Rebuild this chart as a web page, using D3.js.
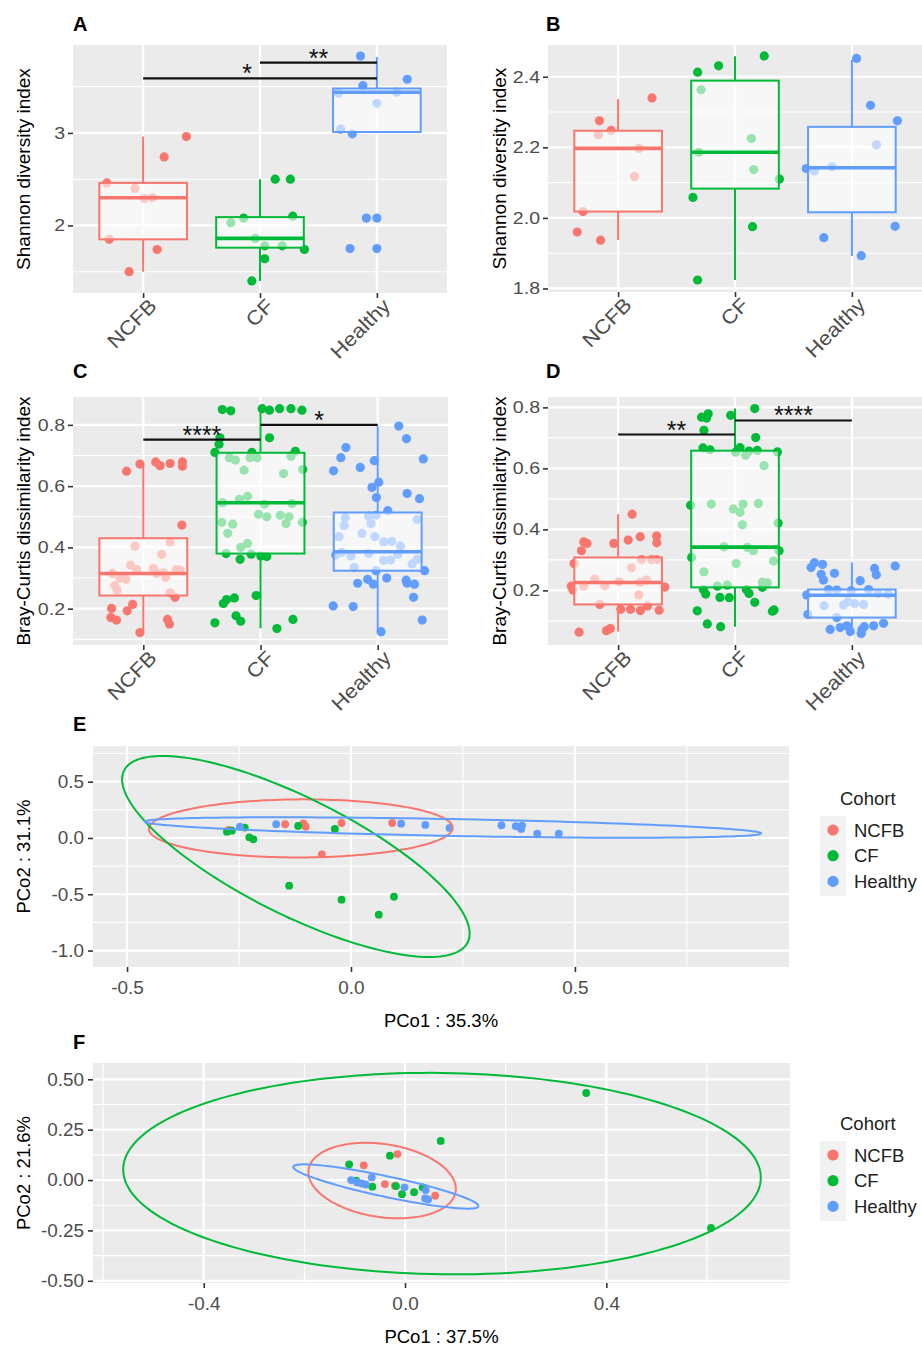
<!DOCTYPE html>
<html>
<head>
<meta charset="utf-8">
<script src="https://cdn.jsdelivr.net/npm/d3@7"></script>
<style>
  body { margin: 0; background: #fff; }
  text { font-family: "Liberation Sans", Arial, Helvetica, sans-serif; }
</style>
</head>
<body>
<svg id="fig" width="922" height="1349"></svg>
<script>
var cohorts = ['NCFB', 'CF', 'Healthy'];
var colors = ['#F8766D', '#00BA38', '#619CFF'];

// boxplot panels: points are [jitter (in category widths), value]
// boxes are [lower whisker, q1, median, q3, upper whisker]
var aNCFB = [[0.37,2.96],[0.18,2.74],[-0.31,2.46],[-0.07,2.40],[0.01,2.29],[0.08,2.30],[-0.29,1.85],[0.12,1.74],[-0.12,1.50]];
var aCF = [[0.13,2.50],[0.26,2.50],[-0.25,2.03],[-0.14,2.08],[0.28,2.10],[-0.04,1.86],[0.04,1.78],[0.19,1.78],[0.38,1.74],[0.04,1.64],[-0.07,1.40]];
var aHealthy = [[-0.14,3.83],[0.26,3.58],[-0.12,3.51],[-0.33,3.43],[0.17,3.44],[0,3.32],[-0.31,3.04],[-0.21,2.99],[-0.09,2.08],[0,2.08],[-0.23,1.75],[0,1.75]];
var aBoxes = [[1.50,1.85,2.30,2.46,2.96],[1.40,1.76,1.86,2.09,2.50],[3.00,3.01,3.44,3.48,3.82]];
var aSig = [[0,2,3.59,'*',0.89],[1,2,3.76,'**',1.5]];

var bNCFB = [[0.29,2.34],[-0.16,2.275],[-0.06,2.248],[-0.17,2.236],[0.18,2.197],[0.14,2.117],[-0.30,2.018],[-0.35,1.960],[-0.15,1.937]];
var bCF = [[0.25,2.459],[-0.14,2.431],[-0.32,2.413],[-0.29,2.363],[0.14,2.225],[-0.31,2.186],[0.16,2.137],[0.38,2.110],[-0.36,2.058],[0.15,1.975],[-0.32,1.824]];
var bHealthy = [[0.04,2.452],[0.16,2.319],[0.39,2.275],[0.21,2.207],[-0.39,2.140],[-0.32,2.133],[-0.17,2.145],[-0.24,1.944],[0.37,1.976],[0.08,1.893]];
var bBoxes = [[1.937,2.018,2.197,2.247,2.337],[1.824,2.083,2.186,2.389,2.458],[1.892,2.016,2.142,2.258,2.448]];

var cNCFB = [[-0.143,0.649],[-0.029,0.672],[0.106,0.679],[0.143,0.667],[0.229,0.674],[0.334,0.679],[0.334,0.665],
  [0.329,0.473],[-0.071,0.404],[0.229,0.418],[0.157,0.377],[-0.109,0.342],[-0.057,0.328],[0.086,0.332],[0.114,0.315],
  [0.171,0.317],[0.191,0.302],[0.28,0.328],[0.314,0.326],[-0.263,0.315],[-0.2,0.299],[-0.149,0.296],[-0.243,0.275],
  [-0.223,0.261],[0.229,0.252],[0.271,0.237],[-0.271,0.201],[-0.091,0.214],[-0.137,0.193],[-0.277,0.171],[-0.229,0.163],
  [0.206,0.165],[0.223,0.150],[-0.029,0.122]];
var cCF = [[-0.326,0.850],[-0.254,0.846],[0.014,0.853],[0.077,0.848],[0.163,0.853],[0.26,0.853],[0.354,0.848],
  [-0.346,0.758],[-0.354,0.737],[-0.389,0.710],[0.077,0.758],[-0.074,0.710],[0.297,0.714],[-0.266,0.693],[-0.214,0.685],
  [-0.089,0.693],[-0.029,0.693],[0.26,0.698],[-0.14,0.652],[0.197,0.641],[0.36,0.654],[-0.323,0.546],[-0.18,0.557],
  [-0.111,0.567],[0.034,0.541],[0.269,0.543],[-0.017,0.508],[0.054,0.500],[0.169,0.505],[0.243,0.500],[0.217,0.478],
  [-0.331,0.482],[-0.237,0.476],[0.357,0.482],[-0.28,0.446],[-0.111,0.413],[-0.169,0.400],[-0.294,0.380],[-0.08,0.378],
  [0.003,0.372],[0.054,0.370],[-0.174,0.361],[-0.037,0.243],[-0.223,0.235],[-0.289,0.230],[-0.317,0.217],[-0.209,0.177],
  [-0.169,0.159],[-0.389,0.154],[0.277,0.165],[0.14,0.135]];
var cHealthy = [[0.18,0.796],[0.246,0.755],[-0.271,0.726],[-0.314,0.693],[0.389,0.689],[-0.377,0.650],[-0.149,0.661],
  [-0.029,0.683],[0.009,0.613],[-0.049,0.596],[-0.011,0.563],[0.251,0.576],[0.357,0.559],[0.086,0.520],[-0.277,0.497],
  [-0.077,0.502],[-0.014,0.505],[-0.286,0.471],[-0.057,0.478],[0.337,0.491],[-0.134,0.446],[-0.023,0.435],[-0.329,0.435],
  [0.051,0.418],[0.12,0.420],[0.194,0.405],[-0.309,0.384],[-0.229,0.372],[-0.077,0.380],[0.171,0.377],[0.051,0.357],
  [0.109,0.359],[-0.357,0.375],[-0.2,0.335],[0.294,0.346],[0.337,0.361],[-0.014,0.324],[0.4,0.324],[0.077,0.300],
  [-0.086,0.296],[-0.171,0.283],[-0.037,0.280],[0.243,0.293],[0.251,0.283],[0.314,0.280],[0.306,0.237],[-0.38,0.209],
  [-0.209,0.207],[0.029,0.125],[0.38,0.163]];
var cBoxes = [[0.120,0.243,0.315,0.430,0.676],[0.136,0.380,0.546,0.709,0.850],[0.125,0.324,0.386,0.514,0.796]];
var cSig = [[0,1,0.752,'****'],[1,2,0.800,'*']];

var dNCFB = [[0.12,0.450],[-0.294,0.359],[-0.266,0.354],[-0.037,0.354],[0.086,0.365],[0.189,0.376],[0.329,0.378],
  [0.331,0.356],[-0.314,0.330],[-0.377,0.288],[0.2,0.301],[0.286,0.301],[0.329,0.301],[0.114,0.274],[-0.2,0.237],
  [-0.294,0.214],[-0.114,0.215],[0.009,0.228],[0.186,0.226],[0.243,0.234],[-0.4,0.214],[-0.386,0.201],[0.4,0.211],
  [0.177,0.185],[-0.157,0.154],[0.251,0.149],[0.023,0.138],[0.106,0.138],[0.191,0.134],[0.351,0.135],[-0.334,0.063],
  [-0.1,0.068],[-0.066,0.075]];
var dCF = [[0.169,0.796],[-0.229,0.779],[-0.286,0.768],[-0.243,0.765],[-0.037,0.774],[-0.266,0.725],[0.177,0.701],
  [-0.274,0.667],[-0.214,0.661],[0.043,0.668],[0.006,0.653],[0.091,0.643],[0.12,0.657],[0.191,0.659],[0.363,0.654],
  [0.249,0.609],[-0.38,0.479],[-0.203,0.483],[-0.014,0.467],[0.043,0.456],[0.069,0.483],[0.2,0.485],[0.063,0.415],
  [0.369,0.421],[-0.094,0.343],[0.106,0.341],[0.157,0.330],[0.377,0.330],[-0.371,0.308],[0.329,0.296],[0.009,0.288],
  [-0.266,0.261],[-0.151,0.214],[-0.066,0.217],[0.234,0.227],[0.277,0.225],[-0.271,0.203],[-0.251,0.188],[-0.129,0.177],
  [-0.049,0.176],[0.097,0.203],[0.12,0.190],[0.234,0.210],[0.169,0.161],[0.334,0.136],[0.32,0.132],[-0.323,0.133],
  [-0.237,0.090],[-0.123,0.081]];
var dHealthy = [[-0.32,0.291],[-0.349,0.275],[-0.251,0.285],[0.371,0.280],[-0.149,0.256],[-0.263,0.253],[-0.243,0.234],
  [0.194,0.272],[0.209,0.251],[0.071,0.232],[-0.2,0.203],[-0.129,0.201],[-0.006,0.199],[0.143,0.203],[0.223,0.190],
  [0.309,0.187],[-0.386,0.185],[-0.071,0.152],[-0.034,0.163],[0.023,0.157],[0.1,0.154],[-0.237,0.150],[-0.377,0.121],
  [-0.129,0.111],[-0.186,0.072],[-0.1,0.078],[-0.043,0.084],[-0.014,0.065],[0.086,0.072],[0.106,0.081],[0.186,0.084],
  [0.271,0.092],[0.08,0.059]];
var dBoxes = [[0.065,0.154,0.226,0.308,0.450],[0.081,0.210,0.342,0.658,0.796],[0.065,0.111,0.184,0.203,0.292]];
var dSig = [[0,1,0.711,'**'],[1,2,0.757,'****']];

// PCoA panels: [PCo1, PCo2]; ellipses [cx, cy, half-range x, half-range y, correlation]
var eNCFB = [[-0.273,0.071],[-0.147,0.122],[-0.106,0.130],[-0.101,0.100],[-0.021,0.133],[0.092,0.133],[-0.065,-0.145]];
var eCF = [[-0.277,0.056],[-0.266,0.065],[-0.237,0.092],[-0.227,0.006],[-0.218,-0.012],[-0.118,0.107],[-0.036,0.080],
  [-0.138,-0.424],[-0.021,-0.548],[0.096,-0.521],[0.062,-0.681]];
var eHealthy = [[-0.248,0.100],[-0.167,0.122],[0.112,0.127],[0.166,0.116],[0.220,0.089],[0.336,0.113],[0.368,0.104],
  [0.382,0.110],[0.380,0.080],[0.416,0.039],[0.464,0.039]];
var eEllipses = [[-0.112,0.085,0.339,0.258,0.02],[-0.123,-0.164,0.388,0.893,-0.767],[0.228,0.093,0.688,0.091,-0.57]];

var fNCFB = [[-0.015,0.129],[-0.082,0.073],[-0.040,-0.020],[-0.020,-0.028],[0.060,-0.078]];
var fCF = [[0.360,0.432],[0.608,-0.238],[0.071,0.194],[-0.030,0.121],[-0.111,0.078],[-0.097,-0.003],[-0.065,-0.033],
  [-0.018,-0.030],[-0.006,-0.070],[0.018,-0.060],[0.035,-0.036]];
var fHealthy = [[-0.107,0.000],[-0.095,-0.012],[-0.086,-0.017],[-0.078,-0.022],[-0.066,0.013],[-0.001,-0.036],
  [0.041,-0.050],[0.040,-0.091],[0.046,-0.096]];
var fEllipses = [[-0.0455,-0.0025,0.1465,0.1875,-0.22],[0.0735,0.032,0.6335,0.500,-0.04],[-0.038,-0.032,0.184,0.110,-0.88]];

var svg = d3.select('#fig');

// widen glyphs a little, the reference text is rendered wider than Liberation Sans
function stretch(sel, k) {
  sel.each(function () {
    var w = this.getComputedTextLength();
    this.setAttribute('textLength', w * k);
    this.setAttribute('lengthAdjust', 'spacingAndGlyphs');
  });
}

function styleAxis(sel, size, k) {
  sel.select('.domain').remove();
  sel.selectAll('.tick line').attr('stroke', '#333').attr('stroke-width', 1.6);
  sel.selectAll('.tick text').attr('fill', '#4D4D4D').style('font-size', size + 'px')
    .style('font-family', '"Liberation Sans", Arial, sans-serif');
  if (k) stretch(sel.selectAll('.tick text'), k);
}

function panelLabel(t, x, y) {
  svg.append('text').attr('x', x).attr('y', y).text(t)
    .style('font-size', '20px').style('font-weight', 'bold').attr('fill', '#000');
}

function hLines(g, vals, y, x0, x1, w) {
  g.append('g').selectAll('line').data(vals).join('line')
    .attr('x1', x0).attr('x2', x1).attr('y1', y).attr('y2', y)
    .attr('stroke', '#fff').attr('stroke-width', w);
}

function vLines(g, vals, x, y0, y1, w) {
  g.append('g').selectAll('line').data(vals).join('line')
    .attr('y1', y0).attr('y2', y1).attr('x1', x).attr('x2', x)
    .attr('stroke', '#fff').attr('stroke-width', w);
}

function boxPanel(p) {
  var g = svg.append('g');
  var x = d3.scalePoint().domain(cohorts).range([p.x0, p.x1]).padding(0.6);
  var step = x.step();
  var y = d3.scaleLinear().domain(p.yDomain).range([p.y1, p.y0]);

  g.append('rect').attr('x', p.x0).attr('y', p.y0)
    .attr('width', p.x1 - p.x0).attr('height', p.y1 - p.y0).attr('fill', '#EBEBEB');
  hLines(g, p.minor, y, p.x0, p.x1, 1.1);
  hLines(g, p.ticks, y, p.x0, p.x1, 2.2);
  vLines(g, cohorts, x, p.y0, p.y1, 2.2);

  p.groups.forEach(function (pts, i) {
    g.append('g').selectAll('circle').data(pts).join('circle')
      .attr('cx', function (d) { return x(cohorts[i]) + d[0] * step; })
      .attr('cy', function (d) { return y(d[1]); })
      .attr('r', 4.6).attr('fill', colors[i]);
  });

  var bw = 0.75 * step;
  p.boxes.forEach(function (d, i) {
    var cx = x(cohorts[i]);
    var bg = g.append('g').attr('stroke', colors[i]).attr('stroke-width', 2);
    bg.append('line').attr('x1', cx).attr('x2', cx).attr('y1', y(d[3])).attr('y2', y(d[4]));
    bg.append('line').attr('x1', cx).attr('x2', cx).attr('y1', y(d[1])).attr('y2', y(d[0]));
    bg.append('rect').attr('x', cx - bw / 2).attr('y', y(d[3]))
      .attr('width', bw).attr('height', y(d[1]) - y(d[3]))
      .attr('fill', 'rgba(255,255,255,0.6)');
    bg.append('line').attr('x1', cx - bw / 2).attr('x2', cx + bw / 2)
      .attr('y1', y(d[2])).attr('y2', y(d[2])).attr('stroke-width', 3.6);
  });

  if (p.sig) {
    var sg = g.append('g').selectAll('g').data(p.sig).join('g');
    sg.append('line')
      .attr('x1', function (d) { return x(cohorts[d[0]]); })
      .attr('x2', function (d) { return x(cohorts[d[1]]); })
      .attr('y1', function (d) { return y(d[2]); })
      .attr('y2', function (d) { return y(d[2]); })
      .attr('stroke', '#111').attr('stroke-width', 2.2);
    sg.append('text')
      .attr('x', function (d) {
        var m = d[4] != null ? d[4] : (d[0] + d[1]) / 2;
        return x(cohorts[0]) + m * step;
      })
      .attr('y', function (d) { return y(d[2]) + 4; })
      .attr('text-anchor', 'middle').style('font-size', '25px').attr('fill', '#111')
      .text(function (d) { return d[3]; });
  }

  var ya = d3.axisLeft(y).tickValues(p.ticks).tickFormat(p.fmt).tickSize(5).tickPadding(3);
  g.append('g').attr('transform', 'translate(' + p.x0 + ',0)').call(ya).call(styleAxis, 17, 1.15);

  var xa = d3.axisBottom(x).tickSize(5).tickPadding(2);
  var xg = g.append('g').attr('transform', 'translate(0,' + p.y1 + ')').call(xa).call(styleAxis, 20, 1.1);
  xg.selectAll('.tick text').attr('y', null).attr('dy', '0.72em').attr('text-anchor', 'end')
    .attr('transform', 'translate(4,4) rotate(-45)');

  g.append('text')
    .attr('transform', 'translate(' + p.titleX + ',' + ((p.y0 + p.y1) / 2) + ') rotate(-90)')
    .attr('text-anchor', 'middle').style('font-size', '19px').attr('fill', '#000')
    .text(p.title);
}

function ellipsePoints(e) {
  var phi = Math.acos(e[4]);
  return d3.range(0, 361, 2).map(function (a) {
    var t = a * Math.PI / 180;
    return [e[0] + e[2] * Math.cos(t), e[1] + e[3] * Math.cos(t - phi)];
  });
}

function pcoPanel(p) {
  var g = svg.append('g');
  var x = d3.scaleLinear().domain(p.xDomain).range([p.x0, p.x1]);
  var y = d3.scaleLinear().domain(p.yDomain).range([p.y1, p.y0]);

  g.append('rect').attr('x', p.x0).attr('y', p.y0)
    .attr('width', p.x1 - p.x0).attr('height', p.y1 - p.y0).attr('fill', '#EBEBEB');
  hLines(g, p.yMinor, y, p.x0, p.x1, 1.1);
  vLines(g, p.xMinor, x, p.y0, p.y1, 1.1);
  hLines(g, p.yTicks, y, p.x0, p.x1, 2.2);
  vLines(g, p.xTicks, x, p.y0, p.y1, 2.2);

  p.groups.forEach(function (pts, i) {
    g.append('g').selectAll('circle').data(pts).join('circle')
      .attr('cx', function (d) { return x(d[0]); })
      .attr('cy', function (d) { return y(d[1]); })
      .attr('r', 3.9).attr('fill', colors[i]);
  });

  var line = d3.line().x(function (d) { return x(d[0]); }).y(function (d) { return y(d[1]); });
  g.append('g').selectAll('path').data(p.ellipses).join('path')
    .attr('d', function (e) { return line(ellipsePoints(e)); })
    .attr('fill', 'none').attr('stroke-width', 2)
    .attr('stroke', function (d, i) { return colors[i]; });

  var ya = d3.axisLeft(y).tickValues(p.yTicks).tickFormat(p.yFmt).tickSize(5).tickPadding(4);
  g.append('g').attr('transform', 'translate(' + p.x0 + ',0)').call(ya).call(styleAxis, 18, 1.05);
  var xa = d3.axisBottom(x).tickValues(p.xTicks).tickFormat(p.xFmt).tickSize(5).tickPadding(9);
  g.append('g').attr('transform', 'translate(0,' + p.y1 + ')').call(xa).call(styleAxis, 18, 1.05);

  g.append('text').attr('x', (p.x0 + p.x1) / 2).attr('y', p.y1 + 60)
    .attr('text-anchor', 'middle').style('font-size', '18.5px').attr('fill', '#000').text(p.xTitle);
  g.append('text')
    .attr('transform', 'translate(30,' + ((p.y0 + p.y1) / 2) + ') rotate(-90)')
    .attr('text-anchor', 'middle').style('font-size', '18.5px').attr('fill', '#000').text(p.yTitle);

  // legend
  var lg = g.append('g').attr('transform', 'translate(820,' + p.legendY + ')');
  lg.append('text').attr('x', 20).attr('y', -11).style('font-size', '18.5px').attr('fill', '#222').text('Cohort');
  lg.append('rect').attr('x', 0).attr('y', 0).attr('width', 26).attr('height', 80).attr('fill', '#F2F2F2');
  var key = lg.selectAll('g.key').data(cohorts).join('g')
    .attr('transform', function (d, i) { return 'translate(0,' + (14 + i * 25.7) + ')'; });
  key.append('circle').attr('cx', 13).attr('cy', 0).attr('r', 5.6)
    .attr('fill', function (d, i) { return colors[i]; });
  key.append('text').attr('x', 34).attr('y', 6.5).style('font-size', '18.5px').attr('fill', '#222')
    .text(function (d) { return d; });
}

function fmtNum(n) { return function (d) { return d.toFixed(n); }; }

boxPanel({
  x0: 73, x1: 447, y0: 45, y1: 293, yDomain: [1.27, 3.95],
  ticks: [2, 3], minor: [1.5, 2.5, 3.5], fmt: fmtNum(0),
  groups: [aNCFB, aCF, aHealthy], boxes: aBoxes, sig: aSig,
  title: 'Shannon diversity index', titleX: 30
});
boxPanel({
  x0: 548, x1: 922, y0: 45, y1: 292, yDomain: [1.79, 2.49],
  ticks: [1.8, 2.0, 2.2, 2.4], minor: [1.9, 2.1, 2.3], fmt: fmtNum(1),
  groups: [bNCFB, bCF, bHealthy], boxes: bBoxes, sig: null,
  title: 'Shannon diversity index', titleX: 506
});
boxPanel({
  x0: 73, x1: 448, y0: 397, y1: 645, yDomain: [0.0815, 0.891],
  ticks: [0.2, 0.4, 0.6, 0.8], minor: [0.1, 0.3, 0.5, 0.7], fmt: fmtNum(1),
  groups: [cNCFB, cCF, cHealthy], boxes: cBoxes, sig: cSig,
  title: 'Bray-Curtis dissimilarity index', titleX: 30
});
boxPanel({
  x0: 548, x1: 922, y0: 397, y1: 645, yDomain: [0.021, 0.834],
  ticks: [0.2, 0.4, 0.6, 0.8], minor: [0.1, 0.3, 0.5, 0.7], fmt: fmtNum(1),
  groups: [dNCFB, dCF, dHealthy], boxes: dBoxes, sig: dSig,
  title: 'Bray-Curtis dissimilarity index', titleX: 506
});
pcoPanel({
  x0: 93, x1: 789, y0: 746, y1: 967, xDomain: [-0.576, 0.978], yDomain: [-1.146, 0.817],
  xTicks: [-0.5, 0, 0.5], xMinor: [-0.25, 0.25, 0.75], xFmt: fmtNum(1),
  yTicks: [-1, -0.5, 0, 0.5], yMinor: [-0.75, -0.25, 0.25, 0.75], yFmt: fmtNum(1),
  groups: [eNCFB, eCF, eHealthy], ellipses: eEllipses,
  xTitle: 'PCo1 : 35.3%', yTitle: 'PCo2 : 31.1%', legendY: 816
});
pcoPanel({
  x0: 93, x1: 790, y0: 1063, y1: 1283, xDomain: [-0.62, 0.765], yDomain: [-0.511, 0.581],
  xTicks: [-0.4, 0, 0.4], xMinor: [-0.6, -0.2, 0.2, 0.6], xFmt: fmtNum(1),
  yTicks: [-0.5, -0.25, 0, 0.25, 0.5], yMinor: [-0.375, -0.125, 0.125, 0.375], yFmt: fmtNum(2),
  groups: [fNCFB, fCF, fHealthy], ellipses: fEllipses,
  xTitle: 'PCo1 : 37.5%', yTitle: 'PCo2 : 21.6%', legendY: 1141
});

panelLabel('A', 73, 31);
panelLabel('B', 546, 31);
panelLabel('C', 73, 378);
panelLabel('D', 546, 378);
panelLabel('E', 73, 731);
panelLabel('F', 73, 1049);
</script>
</body>
</html>
